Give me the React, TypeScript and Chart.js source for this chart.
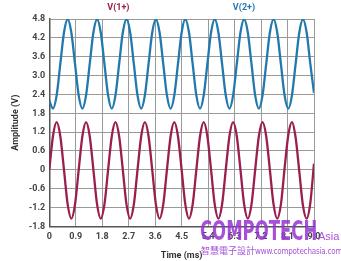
import React, { useEffect, useRef } from "react";
import { Chart, registerables } from "chart.js";

Chart.register(...registerables);

const TIME_MS = [
  0, 0.125, 0.25, 0.375, 0.5, 0.625, 0.75, 0.875,
  1, 1.125, 1.25, 1.375, 1.5, 1.625, 1.75, 1.875,
  2, 2.125, 2.25, 2.375, 2.5, 2.625, 2.75, 2.875,
  3, 3.125, 3.25, 3.375, 3.5, 3.625, 3.75, 3.875,
  4, 4.125, 4.25, 4.375, 4.5, 4.625, 4.75, 4.875,
  5, 5.125, 5.25, 5.375, 5.5, 5.625, 5.75, 5.875,
  6, 6.125, 6.25, 6.375, 6.5, 6.625, 6.75, 6.875,
  7, 7.125, 7.25, 7.375, 7.5, 7.625, 7.75, 7.875,
  8, 8.125, 8.25, 8.375, 8.5, 8.625, 8.75, 8.875,
  9,
];

const V1_PLUS = [
  0, 1.07, 1.52, 1.07, 0, -1.1, -1.55, -1.1,
  0, 1.07, 1.52, 1.07, 0, -1.1, -1.55, -1.1,
  0, 1.07, 1.52, 1.07, 0, -1.1, -1.55, -1.1,
  0, 1.07, 1.52, 1.07, 0, -1.1, -1.55, -1.1,
  0, 1.07, 1.52, 1.07, 0, -1.1, -1.55, -1.1,
  0, 1.07, 1.52, 1.07, 0, -1.1, -1.55, -1.1,
  0, 1.07, 1.52, 1.07, 0, -1.1, -1.55, -1.1,
  0, 1.07, 1.52, 1.07, 0, -1.1, -1.55, -1.1,
  0.05, 1.1, 1.52, 1.03, -0.05, -1.14, -1.55, -1.05,
  0.2,
];

const V2_PLUS = [
  2.2, 1.95, 2.37, 3.37, 4.37, 4.79, 4.37, 3.37,
  2.37, 1.95, 2.37, 3.37, 4.37, 4.79, 4.37, 3.37,
  2.37, 1.95, 2.37, 3.37, 4.37, 4.79, 4.37, 3.37,
  2.37, 1.95, 2.37, 3.37, 4.37, 4.79, 4.37, 3.37,
  2.37, 1.95, 2.37, 3.37, 4.37, 4.79, 4.37, 3.37,
  2.37, 1.95, 2.37, 3.37, 4.37, 4.79, 4.37, 3.37,
  2.37, 1.95, 2.37, 3.37, 4.37, 4.79, 4.37, 3.37,
  2.37, 1.95, 2.37, 3.37, 4.37, 4.79, 4.37, 3.37,
  2.37, 1.95, 2.37, 3.37, 4.37, 4.79, 4.37, 3.37,
  2.45,
];

const X_TICKS = [0, 0.9, 1.8, 2.7, 3.6, 4.5, 5.4, 6.3, 7.2, 8.1, 9.0];
const Y_TICKS = [-1.8, -1.2, -0.6, 0, 0.6, 1.2, 1.8, 2.4, 3.0, 3.6, 4.2, 4.8];

const SERIES_NAMES = ["V(1+)", "V(2+)"];
const LABEL_TIMES = [2.35, 6.62];

const RED = "#9a1f4f";
const BLUE = "#2279ad";
const WM = "rgba(150, 50, 210, 0.85)";

const fmt = (v: number) => (Math.abs(v) < 1e-9 ? "0" : v.toFixed(1));

const seriesLabels = {
  id: "seriesLabels",
  afterDraw(chart: any) {
    const { ctx, scales } = chart;
    ctx.save();
    ctx.font = "bold 9px Roboto, 'DejaVu Sans', sans-serif";
    ctx.textAlign = "center";
    ctx.textBaseline = "middle";
    const colors = [RED, BLUE];
    SERIES_NAMES.forEach((name, i) => {
      ctx.fillStyle = colors[i];
      ctx.fillText(name, scales.x.getPixelForValue(LABEL_TIMES[i]), 8);
    });
    ctx.restore();
  },
};

export default function App() {
  const ref = useRef<HTMLCanvasElement | null>(null);

  useEffect(() => {
    document.body.style.margin = "0";
    const toPts = (ys: number[]) => TIME_MS.map((t, i) => ({ x: t, y: ys[i] }));
    const tickFont = { family: "Roboto, 'DejaVu Sans', sans-serif", size: 9, weight: "bold" as const };
    const chart = new Chart(ref.current!, {
      type: "line",
      data: {
        datasets: [
          {
            label: SERIES_NAMES[0],
            data: toPts(V1_PLUS),
            borderColor: RED,
            borderWidth: 2.3,
            pointRadius: 0,
            cubicInterpolationMode: "monotone",
          },
          {
            label: SERIES_NAMES[1],
            data: toPts(V2_PLUS),
            borderColor: BLUE,
            borderWidth: 2.3,
            pointRadius: 0,
            cubicInterpolationMode: "monotone",
          },
        ],
      },
      options: {
        animation: false,
        responsive: false,
        layout: { padding: { top: 19, right: 27, left: 10, bottom: 0 } },
        plugins: { legend: { display: false }, tooltip: { enabled: false } },
        scales: {
          x: {
            type: "linear",
            min: 0,
            max: 9,
            afterBuildTicks: (s: any) => {
              s.ticks = X_TICKS.map((v) => ({ value: v }));
            },
            ticks: { font: tickFont, color: "#444", padding: 5, maxRotation: 0, autoSkip: false, callback: (v: any) => fmt(Number(v)) },
            grid: { color: "#9a9a9a", lineWidth: 1, drawTicks: false },
            border: { color: "#555", width: 1.5 },
            title: { display: true, text: "Time (ms)", font: tickFont, color: "#333", padding: { top: 3, bottom: 0 } },
          },
          y: {
            type: "linear",
            min: -1.8,
            max: 4.8,
            afterBuildTicks: (s: any) => {
              s.ticks = Y_TICKS.map((v) => ({ value: v }));
            },
            ticks: { font: tickFont, color: "#444", padding: 4, autoSkip: false, callback: (v: any) => fmt(Number(v)) },
            grid: { color: "#9a9a9a", lineWidth: 1, drawTicks: false },
            border: { color: "#555", width: 1.5 },
            title: { display: true, text: "Amplitude (V)", font: tickFont, color: "#333", padding: { top: 0, bottom: 4 } },
          },
        },
      },
      plugins: [seriesLabels],
    });
    return () => chart.destroy();
  }, []);

  return (
    <div style={{ position: "relative", width: 341, height: 261, background: "#fff", overflow: "hidden" }}>
      <canvas ref={ref} width={341} height={261} style={{ display: "block" }} />
      <div
        style={{
          position: "absolute",
          left: 200,
          top: 217,
          fontFamily: "'DejaVu Sans Condensed', 'DejaVu Sans', sans-serif",
          fontWeight: "bold",
          fontSize: 27,
          lineHeight: "27px",
          color: WM,
          transform: "scaleX(0.68)",
          transformOrigin: "left top",
          whiteSpace: "nowrap",
        }}
      >
        COMPOTECH
      </div>
      <div
        style={{
          position: "absolute",
          left: 318,
          top: 231,
          fontFamily: "'Liberation Sans Narrow', 'Liberation Sans', sans-serif",
          fontSize: 11,
          lineHeight: "11px",
          color: WM,
          whiteSpace: "nowrap",
        }}
      >
        Asia
      </div>
      <div
        style={{
          position: "absolute",
          left: 201,
          top: 245,
          fontFamily: "'Noto Sans CJK TC', 'DejaVu Sans Condensed', sans-serif",
          fontSize: 9,
          lineHeight: "12px",
          color: WM,
          whiteSpace: "nowrap",
        }}
      >
        智慧電子設計<span style={{ fontFamily: "'DejaVu Sans Condensed', sans-serif", fontSize: 8, letterSpacing: -0.2 }}>www.compotechasia.com</span>
      </div>
    </div>
  );
}
